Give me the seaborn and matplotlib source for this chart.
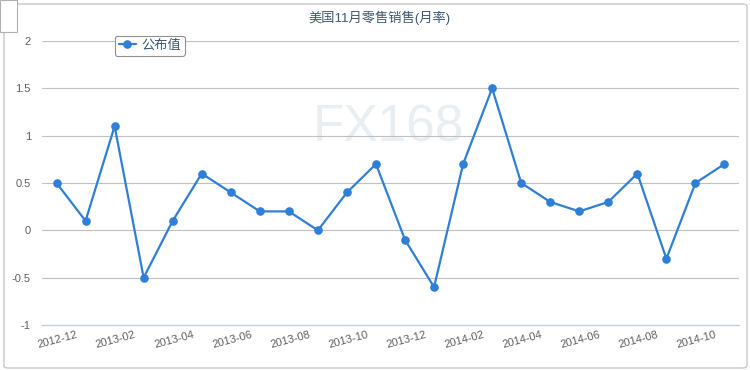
import pandas as pd
import seaborn as sns
from matplotlib import pyplot as plt
from matplotlib.patches import FancyBboxPatch, Rectangle

months = [
    "2012-12", "2013-01", "2013-02", "2013-03", "2013-04", "2013-05",
    "2013-06", "2013-07", "2013-08", "2013-09", "2013-10", "2013-11",
    "2013-12", "2014-01", "2014-02", "2014-03", "2014-04", "2014-05",
    "2014-06", "2014-07", "2014-08", "2014-09", "2014-10", "2014-11",
]
values = [
    0.5, 0.1, 1.1, -0.5, 0.1, 0.6, 0.4, 0.2, 0.2, 0.0, 0.4, 0.7,
    -0.1, -0.6, 0.7, 1.5, 0.5, 0.3, 0.2, 0.3, 0.6, -0.3, 0.5, 0.7,
]
y_ticks = [-1, -0.5, 0, 0.5, 1, 1.5, 2]
y_labels = ["-1", "-0.5", "0", "0.5", "1", "1.5", "2"]
title = "美国11月零售销售(月率)"
series_name = "公布值"

df = pd.DataFrame({"month": months, "value": values})

sns.set_theme(style="white")
plt.rcParams["font.family"] = ["Liberation Sans", "Noto Sans CJK SC", "DejaVu Sans"]

fig = plt.figure(figsize=(7.5, 3.7), dpi=100)
W, H = 750, 370

# outer frame
fig.patches.append(FancyBboxPatch((4 / W, 2 / H), 743 / W, 364 / H,
                                  boxstyle="round,pad=0,rounding_size=0.006",
                                  transform=fig.transFigure, fill=False,
                                  edgecolor="#c8c8c8", linewidth=1.0))
fig.patches.append(Rectangle((0, 1 - 32 / H), 17 / W, 32 / H,
                             transform=fig.transFigure, facecolor="white",
                             edgecolor="#b0b0b0", linewidth=0.8, zorder=5))

ax = fig.add_axes([42 / W, 1 - 325 / H, 697 / W, 284 / H])

# watermark, under the grid
ax.text(388 / W, 1 - 128 / H, "FX168", ha="center", va="center",
        fontsize=37, color="#e9eef3", zorder=-1, transform=fig.transFigure)

sns.lineplot(data=df, x="month", y="value", ax=ax, color="#2f7ed8",
             linewidth=1.6, marker="o", markersize=6.2, markeredgewidth=0,
             label=series_name, sort=False)

ax.set_xlim(-0.5, len(months) - 0.5)
ax.set_ylim(-1, 2)
ax.set_yticks(y_ticks)
ax.set_yticklabels(y_labels)
ax.set_xticks(range(0, len(months), 2))
ax.set_xticklabels(months[::2], rotation=15, ha="center", rotation_mode="anchor")
ax.set_xticks([i - 0.5 for i in range(0, len(months) + 1, 2)], minor=True)
ax.tick_params(axis="x", which="major", length=0, pad=7, labelsize=8, labelcolor="#606060")
ax.tick_params(axis="x", which="minor", length=5, width=0.8, color="#c0d0e0", direction="out")
ax.tick_params(axis="y", length=0, pad=8, labelsize=8, labelcolor="#606060")
ax.set_xlabel("")
ax.set_ylabel("")

for t in y_ticks[1:]:
    ax.axhline(t, color="#c0c0c0", linewidth=0.8, zorder=0)
for s in ["left", "right", "top"]:
    ax.spines[s].set_visible(False)
ax.spines["bottom"].set_color("#c0d0e0")
ax.spines["bottom"].set_linewidth(1.0)
ax.patch.set_alpha(0)

fig.text(380 / W, 1 - 18 / H, title, ha="center", va="center",
         fontsize=9.5, color="#3e576f")

leg = ax.legend(loc="upper left", bbox_to_anchor=(108 / W, 1 - 29 / H),
                bbox_transform=fig.transFigure, frameon=True, fontsize=9.5,
                handlelength=1.3, handletextpad=0.4, borderpad=0.3,
                fancybox=True, framealpha=1)
leg.get_frame().set_edgecolor("#909090")
leg.get_frame().set_linewidth(0.8)
for t in leg.get_texts():
    t.set_color("#3e576f")

fig.savefig("out.png", dpi=100)
